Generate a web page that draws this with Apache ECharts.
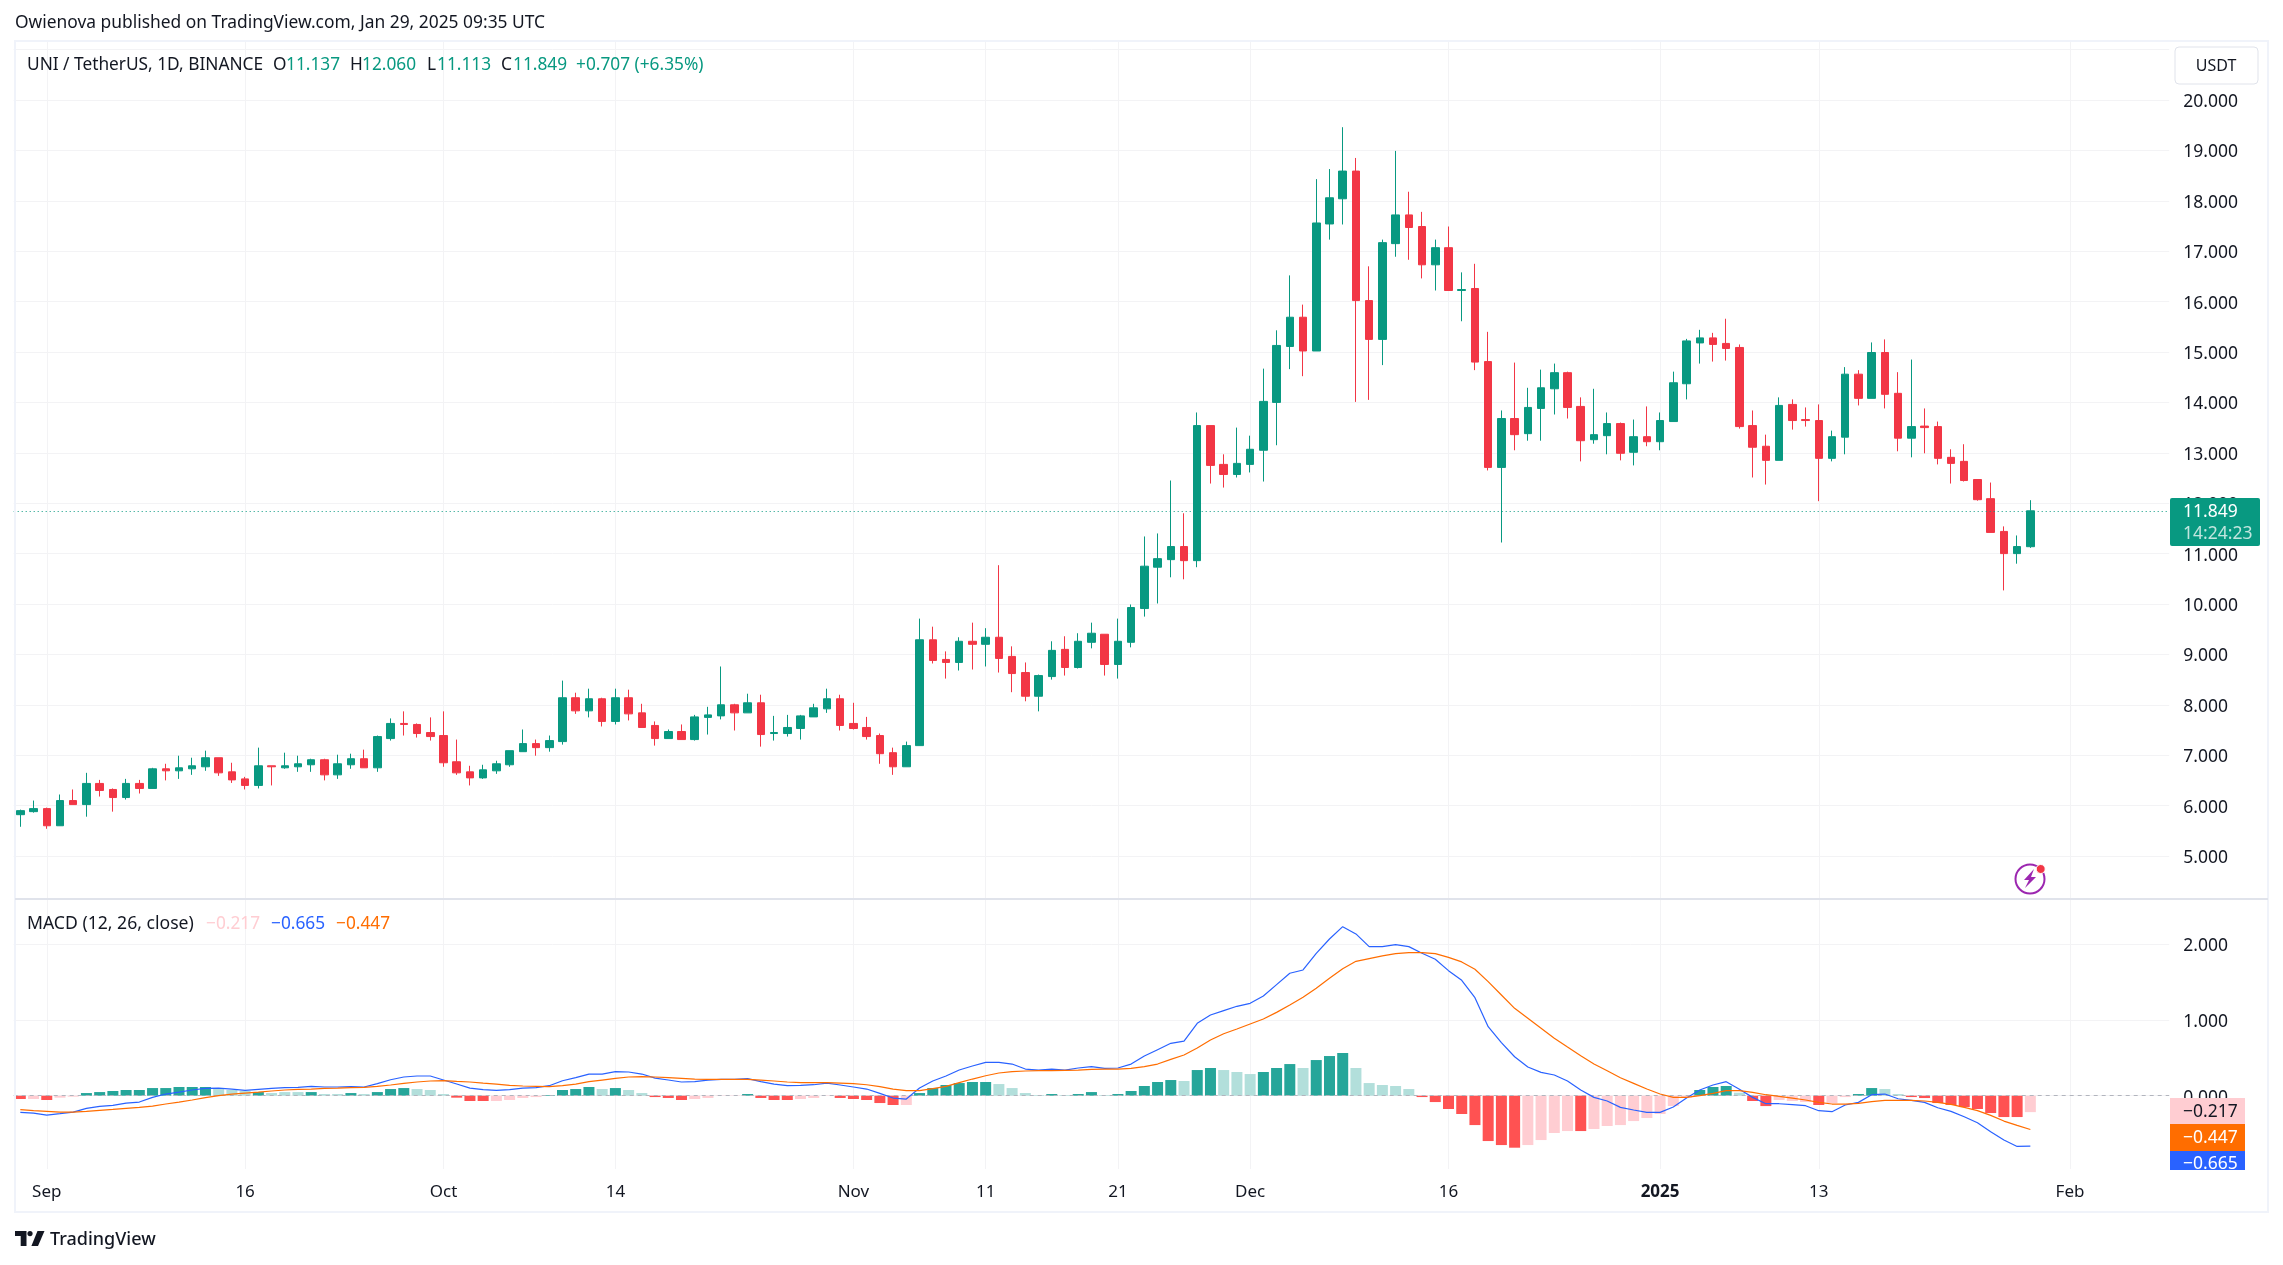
<!DOCTYPE html>
<html>
<head>
<meta charset="utf-8">
<title>UNI / TetherUS</title>
<style>
  html, body { margin: 0; padding: 0; background: #fff; }
  #chart { width: 2283px; height: 1265px; }
</style>
</head>
<body>
<div id="chart"></div>
<script src="https://cdn.jsdelivr.net/npm/echarts@6/dist/echarts.min.js"></script>
<script>
// 日线K线 [open, close, low, high]，从图上读的
var candles = [
  [5.82,5.90,5.58,5.92],[5.88,5.94,5.86,6.10],[5.94,5.60,5.54,5.96],[5.60,6.10,5.60,6.22],[6.10,6.02,6.02,6.32],
  [6.02,6.44,5.78,6.65],[6.44,6.30,6.18,6.51],[6.32,6.16,5.88,6.34],[6.16,6.44,6.12,6.53],[6.44,6.34,6.24,6.51],
  [6.34,6.73,6.34,6.75],[6.73,6.69,6.50,6.83],[6.69,6.75,6.53,6.99],[6.73,6.79,6.61,6.95],[6.77,6.95,6.69,7.09],
  [6.95,6.65,6.59,6.95],[6.67,6.51,6.45,6.85],[6.53,6.40,6.32,6.57],[6.40,6.79,6.34,7.15],[6.79,6.77,6.40,6.79],
  [6.75,6.79,6.73,7.05],[6.77,6.83,6.67,6.99],[6.81,6.91,6.67,6.93],[6.91,6.61,6.50,6.93],[6.61,6.83,6.53,7.01],
  [6.81,6.93,6.73,7.03],[6.93,6.75,6.75,7.11],[6.75,7.37,6.67,7.39],[7.33,7.63,7.29,7.73],[7.63,7.61,7.39,7.87],
  [7.61,7.43,7.35,7.63],[7.45,7.37,7.29,7.75],[7.39,6.85,6.77,7.87],[6.87,6.65,6.61,7.31],[6.67,6.55,6.40,6.79],
  [6.55,6.71,6.53,6.81],[6.69,6.83,6.63,6.89],[6.81,7.09,6.77,7.09],[7.07,7.23,7.07,7.51],[7.23,7.15,6.99,7.31],
  [7.15,7.29,7.07,7.39],[7.27,8.14,7.21,8.48],[8.14,7.88,7.82,8.24],[7.88,8.12,7.75,8.32],[8.12,7.67,7.57,8.14],
  [7.67,8.14,7.61,8.32],[8.14,7.82,7.69,8.30],[7.84,7.55,7.55,8.02],[7.59,7.33,7.19,7.67],[7.33,7.47,7.33,7.51],
  [7.47,7.31,7.31,7.61],[7.31,7.76,7.29,7.80],[7.75,7.80,7.41,7.96],[7.78,8.00,7.71,8.76],[8.00,7.84,7.49,8.02],
  [7.84,8.04,7.84,8.22],[8.04,7.41,7.17,8.20],[7.43,7.45,7.29,7.78],[7.43,7.55,7.37,7.80],[7.53,7.78,7.31,7.80],
  [7.76,7.94,7.76,8.02],[7.92,8.12,7.84,8.32],[8.12,7.59,7.49,8.20],[7.63,7.53,7.51,8.04],[7.55,7.37,7.31,7.76],
  [7.39,7.03,6.83,7.43],[7.05,6.77,6.61,7.15],[6.77,7.19,6.77,7.27],[7.19,9.29,7.19,9.71],[9.29,8.88,8.82,9.55],
  [8.90,8.84,8.52,9.06],[8.84,9.26,8.68,9.34],[9.26,9.20,8.70,9.63],[9.20,9.34,8.76,9.52],[9.34,8.92,8.64,10.77],
  [8.96,8.62,8.25,9.16],[8.64,8.17,8.07,8.84],[8.17,8.58,7.87,8.60],[8.56,9.08,8.50,9.26],[9.10,8.74,8.58,9.36],
  [8.74,9.26,8.72,9.42],[9.24,9.42,9.12,9.63],[9.40,8.80,8.58,9.40],[8.80,9.26,8.52,9.71],[9.24,9.93,9.14,9.99],
  [9.91,10.75,9.75,11.34],[10.73,10.90,10.01,11.40],[10.88,11.14,10.53,12.45],[11.14,10.86,10.49,11.80],[10.86,13.54,10.73,13.80],
  [13.54,12.75,12.39,13.54],[12.77,12.57,12.31,12.97],[12.57,12.79,12.51,13.50],[12.77,13.07,12.61,13.34],[13.05,14.02,12.43,14.67],
  [14.00,15.13,13.15,15.43],[15.11,15.69,14.66,16.52],[15.69,15.02,14.52,15.94],[15.02,17.56,15.02,18.43],[17.54,18.06,17.23,18.63],
  [18.04,18.59,17.53,19.46],[18.59,16.02,14.01,18.85],[16.02,15.25,14.05,16.70],[15.25,17.17,14.74,17.23],[17.15,17.72,16.89,18.99],
  [17.72,17.47,16.83,18.18],[17.49,16.73,16.46,17.78],[16.73,17.07,16.22,17.23],[17.07,16.22,16.22,17.49],[16.22,16.24,15.61,16.58],
  [16.26,14.80,14.64,16.75],[14.81,12.71,12.65,15.40],[12.71,13.68,11.22,13.84],[13.68,13.36,13.05,14.79],[13.38,13.90,13.24,14.29],
  [13.88,14.29,13.24,14.65],[14.27,14.59,13.76,14.77],[14.59,13.90,13.68,14.61],[13.92,13.24,12.83,14.10],[13.26,13.36,13.18,14.27],
  [13.34,13.58,12.97,13.80],[13.58,12.99,12.85,13.60],[13.01,13.32,12.75,13.66],[13.32,13.22,13.13,13.92],[13.22,13.64,13.05,13.80],
  [13.62,14.39,13.62,14.61],[14.37,15.22,14.06,15.26],[15.18,15.28,14.77,15.44],[15.28,15.15,14.81,15.38],[15.17,15.07,14.83,15.66],
  [15.09,13.52,13.48,15.15],[13.54,13.11,12.51,13.84],[13.13,12.85,12.37,13.36],[12.85,13.94,12.85,14.10],[13.96,13.64,13.46,14.06],
  [13.66,13.64,13.52,13.90],[13.64,12.89,12.04,13.96],[12.89,13.32,12.83,13.44],[13.31,14.56,12.97,14.70],[14.56,14.08,13.94,14.64],
  [14.08,14.99,14.08,15.19],[14.99,14.16,13.88,15.25],[14.18,13.29,13.03,14.60],[13.29,13.52,12.91,14.85],[13.53,13.50,12.99,13.88],
  [13.52,12.89,12.77,13.62],[12.91,12.79,12.39,13.07],[12.83,12.45,12.43,13.17],[12.47,12.07,12.05,12.47],[12.09,11.42,11.42,12.41],
  [11.44,11.00,10.27,11.54],[11.00,11.14,10.80,11.36],[11.137,11.849,11.113,12.06]
];

// MACD 柱
var macdHist = [
  -.044,-.044,-.057,-.026,-.013,.035,.048,.062,.075,.075,.101,.101,.115,.115,.115,.088,.075,.062,.048,.035,
  .048,.048,.048,.022,.022,.035,.022,.048,.088,.101,.088,.075,.022,-.026,-.07,-.07,-.07,-.057,-.03,-.018,
  .009,.075,.088,.115,.088,.101,.075,.035,-.018,-.03,-.057,-.044,-.03,-.004,-.004,.022,-.03,-.057,
  -.057,-.044,-.03,-.004,-.03,-.044,-.057,-.097,-.123,-.123,.035,.101,.141,.167,.181,.181,.154,.101,.035,.009,
  .022,.009,.022,.048,.009,.022,.062,.128,.181,.207,.194,.339,.366,.339,.313,.286,.313,.366,.418,.366,
  .471,.524,.564,.366,.167,.141,.128,.088,-.018,-.084,-.176,-.242,-.388,-.599,-.652,-.687,-.652,-.586,-.493,-.467,
  -.467,-.44,-.40,-.388,-.335,-.295,-.242,-.137,-.026,.075,.115,.128,.04,-.07,-.137,-.057,-.07,-.084,-.123,-.097,
  -.018,.022,.101,.088,.022,-.018,-.031,-.097,-.123,-.15,-.176,-.229,-.282,-.282,-.217
];
// 1 = 深色柱, 0 = 浅色柱
var histStrong = [
  1,0,1,0,0,1,1,1,1,1,1,1,1,1,1,0,0,0,1,0,0,0,1,0,0,1,0,1,1,1,0,0,0,1,1,1,0,0,0,0,
  1,1,1,1,0,1,0,0,1,1,1,0,0,0,0,1,1,1,1,0,0,0,1,1,1,1,1,0,1,1,1,1,1,1,0,0,0,0,1,0,
  1,1,0,1,1,1,1,1,0,1,1,0,0,0,1,1,1,0,1,1,1,0,0,0,0,0,1,1,1,1,1,1,1,1,0,0,0,0,1,0,
  0,0,0,0,0,0,0,1,1,1,0,1,1,0,0,0,1,0,0,1,1,0,0,1,1,1,1,1,1,1,1,1,0
];
var macdLine = [
  -.22,-.229,-.256,-.238,-.216,-.167,-.141,-.128,-.097,-.084,-.022,.022,.048,.075,.097,.101,.088,.07,.084,.097,
  .106,.11,.123,.115,.115,.119,.115,.159,.211,.247,.26,.26,.207,.154,.101,.079,.07,.079,.101,.106,
  .132,.198,.238,.286,.286,.317,.313,.286,.233,.207,.181,.185,.207,.216,.216,.225,.185,.154,
  .132,.137,.145,.167,.141,.115,.088,.031,-.031,-.044,.101,.194,.26,.339,.392,.441,.441,.418,.352,.339,
  .352,.339,.366,.383,.361,.366,.418,.524,.608,.692,.722,.956,1.066,1.123,1.181,1.22,1.317,1.467,1.617,1.661,
  1.881,2.07,2.233,2.137,1.969,1.969,1.996,1.969,1.881,1.802,1.652,1.524,1.295,.912,.70,.515,.379,.308,.273,.194,
  .075,-.022,-.07,-.154,-.189,-.22,-.22,-.15,-.031,.075,.141,.185,.084,-.022,-.106,-.106,-.119,-.132,-.198,-.211,
  -.123,-.088,.013,.022,-.04,-.062,-.088,-.159,-.207,-.278,-.357,-.476,-.586,-.67,-.665
];
var signalLine = [
  -.185,-.198,-.207,-.216,-.216,-.207,-.194,-.181,-.167,-.154,-.137,-.11,-.084,-.057,-.026,0,.022,.035,.048,.062,
  .075,.084,.088,.097,.101,.106,.11,.123,.141,.163,.181,.194,.198,.189,.181,.167,.154,.137,.128,.123,
  .119,.132,.154,.185,.207,.229,.247,.251,.247,.238,.229,.22,.216,.216,.216,.216,.207,.194,
  .181,.172,.172,.172,.167,.159,.145,.119,.088,.066,.066,.093,.123,.172,.22,.264,.3,.317,.326,.33,
  .33,.335,.339,.348,.352,.352,.361,.383,.418,.48,.537,.63,.736,.819,.881,.947,1.013,1.101,1.198,1.3,
  1.419,1.551,1.678,1.775,1.811,1.846,1.877,1.89,1.89,1.877,1.828,1.767,1.67,1.507,1.33,1.154,1.022,.89,.758,.643,
  .529,.419,.33,.238,.163,.088,.022,-.022,-.022,0,.031,.066,.066,.044,.013,-.009,-.031,-.057,-.088,-.11,
  -.11,-.101,-.079,-.062,-.062,-.062,-.07,-.088,-.115,-.154,-.198,-.26,-.335,-.392,-.447
];

// 时间轴标签
var tickLabels = {
  '2024-09-01': 'Sep', '2024-09-16': '16', '2024-10-01': 'Oct', '2024-10-14': '14',
  '2024-11-01': 'Nov', '2024-11-11': '11', '2024-11-21': '21', '2024-12-01': 'Dec',
  '2024-12-16': '16', '2025-01-01': '2025', '2025-01-13': '13', '2025-02-01': 'Feb'
};
var categories = [];
for (var d = 0; d < 163; d++) {
  categories.push(new Date(Date.UTC(2024, 7, 30 + d)).toISOString().slice(0, 10));
}

var lastPrice = 11.849;
var priceTicks = { min: 5, max: 21, interval: 1 };
var macdTicks = { min: -1, max: 3, interval: 1 };

var FONT = 'Noto Sans';
var UP = '#089981', DOWN = '#f23645', TEXT = '#131722', GRID = '#f3f3f5', FRAME = '#f0f3fa';
// 价格标签略微下移
var axisRich = { p: { fontFamily: FONT, fontSize: 17.5, color: TEXT, padding: [4, 0, 0, 0] } };

function isTick(index, value) { return tickLabels[value] !== undefined; }

function txt(x, y, s, color, size, extra) {
  var style = { text: s, x: x, y: y, fill: color, fontFamily: FONT, fontSize: size || 17, verticalAlign: 'middle' };
  for (var k in (extra || {})) style[k] = extra[k];
  return { type: 'text', z: 120, silent: true, style: style };
}
function box(x, y, w, h, color, r) {
  return { type: 'rect', z: 110, silent: true, shape: { x: x, y: y, width: w, height: h, r: r || 0 }, style: { fill: color } };
}

var myChart = echarts.init(document.getElementById('chart'), null, { renderer: 'canvas' });
myChart.setOption({
  animation: false,
  backgroundColor: '#fff',
  grid: [
    { left: 13.7, right: 113.8, top: 41, bottom: 96 },
    { left: 13.7, right: 113.8, top: 49.6, bottom: 409 },
    { left: 13.7, right: 113.8, top: 868.6, bottom: 93.6 }
  ],
  xAxis: [
    {
      type: 'category', gridIndex: 0, data: categories,
      axisLine: { show: false }, axisTick: { show: false },
      splitLine: { show: true, interval: isTick, alignWithLabel: true, lineStyle: { color: GRID, width: 1 } },
      axisLabel: {
        interval: isTick, margin: 15, fontFamily: FONT, fontSize: 17, color: TEXT,
        formatter: function (v) {
          var s = tickLabels[v] || '';
          return s === '2025' ? '{b|2025}' : s;
        },
        rich: { b: { fontFamily: FONT, fontSize: 17, fontWeight: 'bold', color: TEXT } }
      }
    },
    { type: 'category', gridIndex: 1, data: categories, show: false },
    { type: 'category', gridIndex: 2, data: categories, show: false }
  ],
  yAxis: [
    { type: 'value', gridIndex: 0, show: false, min: 0, max: 1 },
    {
      type: 'value', gridIndex: 1, position: 'right', scale: true,
      min: priceTicks.min, max: priceTicks.max, interval: priceTicks.interval,
      axisLine: { show: false }, axisTick: { show: false },
      splitLine: { show: true, lineStyle: { color: GRID, width: 1 } },
      axisLabel: {
        margin: 14, rich: axisRich,
        formatter: function (v) { return v === 21 ? '' : '{p|' + v.toFixed(3) + '}'; }
      }
    },
    {
      type: 'value', gridIndex: 2, position: 'right',
      min: macdTicks.min, max: macdTicks.max, interval: macdTicks.interval,
      axisLine: { show: false }, axisTick: { show: false },
      splitLine: { show: true, showMinLine: false, showMaxLine: false, lineStyle: { color: GRID, width: 1 } },
      axisLabel: {
        margin: 14, rich: axisRich,
        formatter: function (v) { return (v === -1 || v === 3) ? '' : '{p|' + v.toFixed(3) + '}'; }
      }
    }
  ],
  series: [
    {
      name: 'UNI', type: 'candlestick', xAxisIndex: 1, yAxisIndex: 1, data: candles,
      barWidth: 8,
      itemStyle: { color: UP, color0: DOWN, borderColor: UP, borderColor0: DOWN, borderWidth: 1 },
      markLine: {
        silent: true, symbol: 'none', animation: false, label: { show: false },
        lineStyle: { color: UP, type: [1, 3], width: 1 },
        data: [{ yAxis: lastPrice }]
      }
    },
    {
      name: 'Histogram', type: 'bar', xAxisIndex: 2, yAxisIndex: 2, barWidth: 11,
      data: macdHist.map(function (v, i) {
        var c;
        if (v >= 0) c = histStrong[i] ? '#26a69a' : '#b2dfdb';
        else c = histStrong[i] ? '#ff5252' : '#ffcdd2';
        return { value: v, itemStyle: { color: c } };
      }),
      markLine: {
        silent: true, symbol: 'none', animation: false, label: { show: false },
        lineStyle: { color: '#b2b5be', type: [4, 4], width: 1 },
        data: [{ yAxis: 0 }]
      }
    },
    {
      name: 'MACD', type: 'line', xAxisIndex: 2, yAxisIndex: 2, data: macdLine, symbol: 'none', smooth: false,
      lineStyle: { color: '#2962ff', width: 1.2 }, z: 5
    },
    {
      name: 'Signal', type: 'line', xAxisIndex: 2, yAxisIndex: 2, data: signalLine, symbol: 'none', smooth: false,
      lineStyle: { color: '#ff6d00', width: 1.2 }, z: 6
    }
  ],
  graphic: [
    // 外框和分隔线
    { type: 'rect', z: 100, silent: true, shape: { x: 15, y: 41, width: 2253, height: 1171 }, style: { fill: 'none', stroke: FRAME, lineWidth: 2 } },
    { type: 'line', z: 100, silent: true, shape: { x1: 15, y1: 899, x2: 2268, y2: 899 }, style: { stroke: '#e0e3eb', lineWidth: 2 } },

    txt(15, 23, 'Owienova published on TradingView.com, Jan 29, 2025 09:35 UTC', TEXT, 17.4),

    txt(27, 65, 'UNI / TetherUS, 1D, BINANCE', TEXT, 17.3),
    txt(273, 65, 'O', TEXT, 17.3), txt(286, 65, '11.137', UP, 17.3),
    txt(350, 65, 'H', TEXT, 17.3), txt(362, 65, '12.060', UP, 17.3),
    txt(427, 65, 'L', TEXT, 17.3), txt(437, 65, '11.113', UP, 17.3),
    txt(501, 65, 'C', TEXT, 17.3), txt(513, 65, '11.849', UP, 17.3),
    txt(576, 65, '+0.707 (+6.35%)', UP, 17.3),

    txt(27, 924, 'MACD (12, 26, close)', TEXT, 17.6),
    txt(206, 924, '\u22120.217', '#ffcdd2', 17.3),
    txt(271, 924, '\u22120.665', '#2962ff', 17.3),
    txt(336, 924, '\u22120.447', '#ff6d00', 17.3),

    // USDT 按钮
    { type: 'rect', z: 110, silent: true, shape: { x: 2175, y: 47, width: 83, height: 37, r: 4 }, style: { fill: '#fff', stroke: '#e0e3eb', lineWidth: 1 } },
    txt(2216, 66, 'USDT', TEXT, 16, { align: 'center' }),

    // 最新价标签
    box(2170, 498, 90, 48, UP, 2),
    txt(2183, 512, '11.849', '#fff', 17.5),
    txt(2183, 534, '14:24:23', '#c1e5de', 17.5),

    // MACD 数值标签
    box(2170, 1098, 75, 26, '#ffcdd2'),
    box(2170, 1124, 75, 27, '#ff6d00'),
    box(2170, 1151, 75, 19, '#2962ff'),
    txt(2183, 1112, '\u22120.217', TEXT, 17.5),
    txt(2183, 1138, '\u22120.447', '#fff', 17.5),
    txt(2183, 1164, '\u22120.665', '#fff', 17.5),

    // 闪电图标
    { type: 'circle', z: 110, silent: true, shape: { cx: 2030, cy: 879, r: 14.5 }, style: { fill: '#fff', stroke: '#9c27b0', lineWidth: 2 } },
    { type: 'polygon', z: 111, silent: true, shape: { points: [[2034, 869], [2024, 880], [2029, 880], [2025, 888], [2036, 877], [2031, 877]] }, style: { fill: '#9c27b0' } },
    { type: 'circle', z: 112, silent: true, shape: { cx: 2040.7, cy: 869, r: 4.5 }, style: { fill: '#f23645', stroke: '#fff', lineWidth: 1 } },

    // TradingView 标志
    { type: 'polygon', z: 110, silent: true, shape: { points: [[15, 1231], [26.5, 1231], [26.5, 1246], [20.7, 1246], [20.7, 1236], [15, 1236]] }, style: { fill: TEXT } },
    { type: 'polygon', z: 110, silent: true, shape: { points: [[38, 1246], [31.4, 1246], [37.5, 1231], [44.5, 1231]] }, style: { fill: TEXT } },
    { type: 'circle', z: 110, silent: true, shape: { cx: 30, cy: 1233.6, r: 2.6 }, style: { fill: TEXT } },
    txt(50, 1240, 'TradingView', TEXT, 18, { fontWeight: 500 })
  ]
});
</script>
</body>
</html>
